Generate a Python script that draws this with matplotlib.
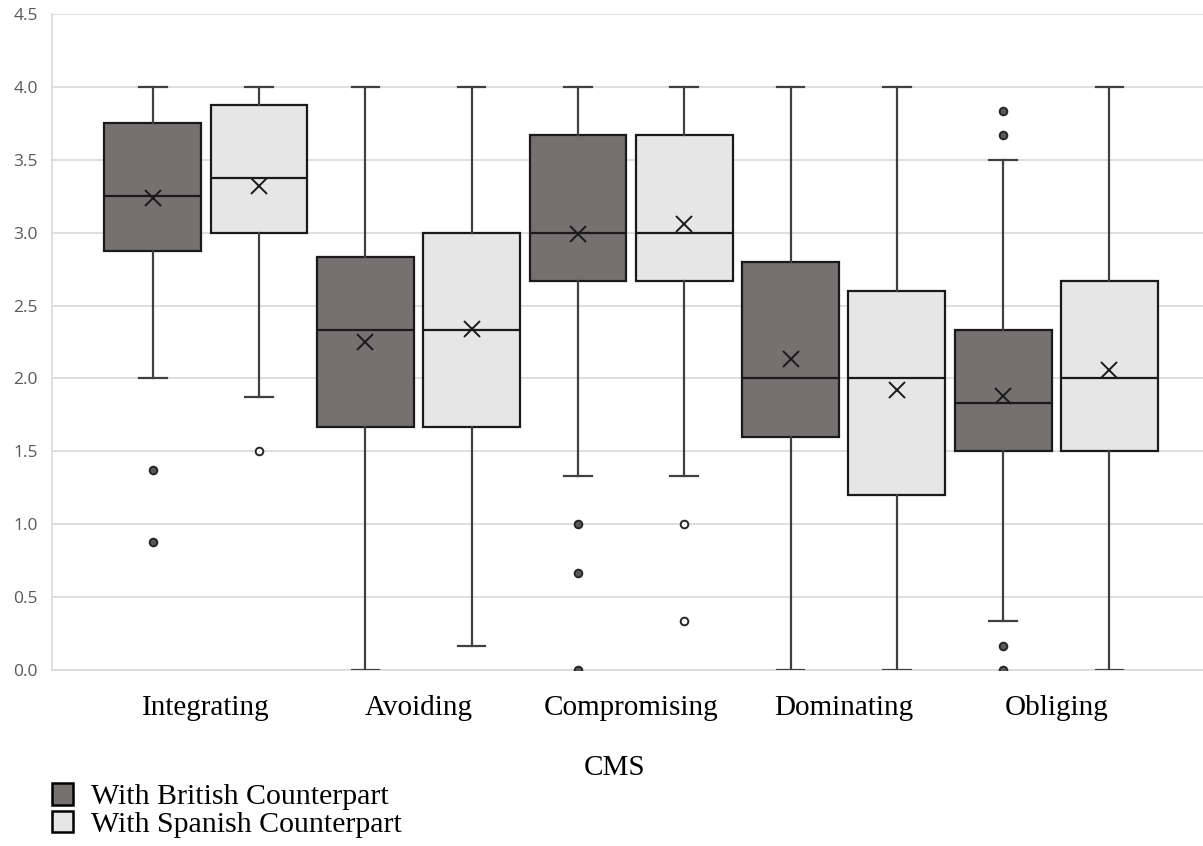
import numpy as np
import matplotlib.pyplot as plt

####
# Data
#===
categories = ['Integrating', 'Avoiding', 'Compromising', 'Dominating', 'Obliging']
groups = ['With British Counterpart', 'With Spanish Counterpart']

# British
brit_low = [2.0, 0.0, 1.333, 0.0, 0.333]
brit_q1 = [2.875, 1.667, 2.667, 1.6, 1.5]
brit_med = [3.25, 2.333, 3.0, 2.0, 1.833]
brit_q3 = [3.75, 2.833, 3.667, 2.8, 2.333]
brit_high = [4.0, 4.0, 4.0, 4.0, 3.5]
brit_mean = [3.24, 2.25, 2.99, 2.13, 1.88]
brit_fliers = [[1.375, 0.875], [], [1.0, 0.667, 0.0], [], [3.833, 3.667, 0.167, 0.0]]

# Spanish
span_low = [1.875, 0.167, 1.333, 0.0, 0.0]
span_q1 = [3.0, 1.667, 2.667, 1.2, 1.5]
span_med = [3.375, 2.333, 3.0, 2.0, 2.0]
span_q3 = [3.875, 3.0, 3.667, 2.6, 2.667]
span_high = [4.0, 4.0, 4.0, 4.0, 4.0]
span_mean = [3.32, 2.34, 3.06, 1.92, 2.06]
span_fliers = [[1.5], [], [1.0, 0.333], [], []]

colors = ['#767171', '#E7E6E6']
flier_fill = ['#595959', 'white']


def make_stats(low, q1, med, q3, high, mean, fliers):
    out = []
    for i in range(len(low)):
        out.append(dict(whislo=low[i], q1=q1[i], med=med[i], q3=q3[i],
                        whishi=high[i], mean=mean[i], fliers=fliers[i]))
    return out


series = [
    make_stats(brit_low, brit_q1, brit_med, brit_q3, brit_high, brit_mean, brit_fliers),
    make_stats(span_low, span_q1, span_med, span_q3, span_high, span_mean, span_fliers),
]

####
# Plot
#===
fig = plt.figure(figsize=(12.03, 8.46), dpi=100)
ax = fig.add_axes([0.0432, 0.208, 0.9568, 0.7755])

x = np.arange(len(categories))
offsets = [-0.25, 0.25]
for k, stats in enumerate(series):
    ax.bxp(stats, positions=x + offsets[k], widths=0.455, capwidths=0.13,
           patch_artist=True, showmeans=True, showfliers=True,
           boxprops=dict(facecolor=colors[k], edgecolor='#1a1a1a', linewidth=1.6),
           medianprops=dict(color='#1a1a1a', linewidth=1.6),
           whiskerprops=dict(color='#404040', linewidth=1.6),
           capprops=dict(color='#404040', linewidth=1.6),
           meanprops=dict(marker='x', markeredgecolor='#1a1a1a', markersize=11,
                          markeredgewidth=1.4),
           flierprops=dict(marker='o', markerfacecolor=flier_fill[k],
                           markeredgecolor='#262626', markersize=5.5,
                           markeredgewidth=1.4),
           zorder=3)

ax.set_xlim(-0.724, 4.69)
ax.set_ylim(0, 4.5)
ax.set_yticks(np.arange(0, 4.51, 0.5))
ax.set_yticklabels(['{:.1f}'.format(v) for v in np.arange(0, 4.51, 0.5)],
                   color='#595959', fontsize=12.5, family='Open Sans')
ax.set_xticks(x)
ax.set_xticklabels(categories, family='Liberation Serif', fontsize=21)
ax.tick_params(axis='both', length=0)
ax.tick_params(axis='x', pad=18)
ax.tick_params(axis='y', pad=10)
ax.grid(axis='y', color='#D9D9D9', linewidth=1.2, zorder=0)
ax.set_axisbelow(True)
for s in ['top', 'right']:
    ax.spines[s].set_visible(False)
for s in ['left', 'bottom']:
    ax.spines[s].set_color('#D9D9D9')
    ax.spines[s].set_linewidth(1.2)

ax.set_xlabel('CMS', family='Liberation Serif', fontsize=21)
ax.xaxis.set_label_coords(0.489, -0.130)

handles = [plt.Rectangle((0, 0), 1, 1, facecolor=colors[k], edgecolor='black',
                         linewidth=1.8) for k in range(2)]
fig.legend(handles, groups, loc='upper left', bbox_to_anchor=(0.043, 0.074),
           frameon=False, prop=dict(family='Liberation Serif', size=21.5),
           handlelength=0.72, handleheight=0.72, handletextpad=0.6,
           labelspacing=0.02, borderpad=0, borderaxespad=0)

fig.savefig('out.png', dpi=100)
